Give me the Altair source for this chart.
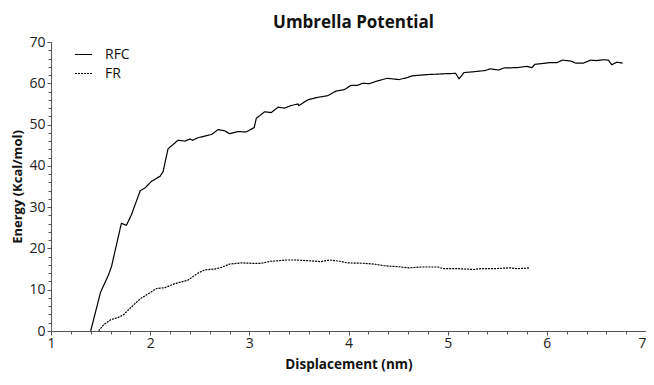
import altair as alt
import pandas as pd

rfc_x = [1.40, 1.50, 1.58, 1.61, 1.71, 1.76, 1.81, 1.90, 1.95, 2.015, 2.10, 2.13, 2.18, 2.28, 2.35, 2.40, 2.43, 2.48,
         2.62, 2.685, 2.75, 2.80, 2.886, 2.97, 3.05, 3.07, 3.155, 3.22, 3.29, 3.355, 3.42, 3.49, 3.50, 3.59, 3.69,
         3.79, 3.875, 3.96, 4.025, 4.09, 4.14, 4.21, 4.28, 4.39, 4.51, 4.595, 4.64, 4.79, 4.96, 5.08, 5.115, 5.165,
         5.265, 5.38, 5.43, 5.515, 5.565, 5.70, 5.80, 5.85, 5.88, 5.96, 6.03, 6.10, 6.16, 6.24, 6.29, 6.37, 6.44,
         6.50, 6.57, 6.62, 6.655, 6.705, 6.765]
rfc_y = [0.0, 9.4, 13.6, 15.6, 26.1, 25.6, 28.1, 34.0, 34.7, 36.3, 37.5, 38.6, 44.1, 46.2, 46.0, 46.5, 46.2, 46.8,
         47.6, 48.8, 48.5, 47.8, 48.3, 48.2, 49.3, 51.5, 53.1, 52.9, 54.2, 54.0, 54.6, 55.0, 54.6, 56.0, 56.6,
         57.0, 58.1, 58.5, 59.5, 59.5, 60.0, 59.9, 60.5, 61.2, 60.9, 61.4, 61.8, 62.1, 62.3, 62.4, 61.1, 62.6,
         62.8, 63.1, 63.5, 63.2, 63.7, 63.8, 64.1, 63.8, 64.6, 64.8, 65.0, 65.0, 65.6, 65.4, 64.9, 64.9, 65.6,
         65.5, 65.7, 65.6, 64.5, 65.1, 64.9]

fr_x = [1.48, 1.53, 1.60, 1.68, 1.73, 1.81, 1.90, 1.98, 2.065, 2.15, 2.25, 2.38, 2.48, 2.55, 2.65, 2.72, 2.80,
        2.92, 3.02, 3.12, 3.22, 3.29, 3.37, 3.455, 3.62, 3.72, 3.81, 3.91, 3.99, 4.16, 4.26, 4.36, 4.49, 4.61,
        4.73, 4.90, 4.96, 5.10, 5.265, 5.33, 5.465, 5.63, 5.70, 5.785, 5.83]
fr_y = [0.0, 1.5, 2.7, 3.3, 3.9, 5.8, 7.8, 9.0, 10.3, 10.5, 11.5, 12.3, 14.0, 14.8, 15.0, 15.4, 16.2,
        16.5, 16.4, 16.4, 16.9, 17.0, 17.2, 17.2, 17.0, 16.8, 17.2, 16.9, 16.5, 16.4, 16.2, 15.8, 15.6, 15.3,
        15.5, 15.5, 15.1, 15.1, 14.9, 15.1, 15.1, 15.3, 15.1, 15.2, 15.3]

x_major = [1, 2, 3, 4, 5, 6, 7]
x_minor = [round(1 + 0.2 * i, 1) for i in range(31)]
y_major = [0, 10, 20, 30, 40, 50, 60, 70]
y_minor = list(range(0, 71, 2))

FONT = "Open Sans"

df = pd.concat([
    pd.DataFrame({"x": rfc_x, "y": rfc_y, "series": "RFC", "order": range(len(rfc_x))}),
    pd.DataFrame({"x": fr_x, "y": fr_y, "series": "FR", "order": range(len(fr_x))}),
])

xscale = alt.Scale(domain=[1, 7], nice=False, zero=False)
yscale = alt.Scale(domain=[0, 70], nice=False)

lines = alt.Chart(df).mark_line(strokeWidth=1.2, color="black").encode(
    x=alt.X("x:Q", scale=xscale,
            axis=alt.Axis(values=x_major, title="Displacement (nm)", grid=False, tickSize=4,
                          labelFontSize=14, titleFontSize=13.5, titleFontWeight="bold",
                          labelFont=FONT, titleFont=FONT, domainColor="#555", tickColor="#555",
                          labelColor="#222", titleColor="#111", labelPadding=1,
                          titleBaseline="alphabetic", titleY=37,
                          labelAlign={"condition": {"test": "datum.value >= 7", "value": "right"},
                                      "value": "center"})),
    y=alt.Y("y:Q", scale=yscale,
            axis=alt.Axis(values=y_major, title="Energy (Kcal/mol)", grid=False, tickSize=4,
                          labelFontSize=14, titleFontSize=13, titleFontWeight="bold",
                          labelFont=FONT, titleFont=FONT, domainColor="#555", tickColor="#555",
                          labelColor="#222", titleColor="#111", titlePadding=4, labelPadding=2)),
    strokeDash=alt.StrokeDash("series:N",
                              scale=alt.Scale(domain=["RFC", "FR"], range=[[1, 0], [2, 1]]),
                              legend=alt.Legend(title=None, orient="none", legendX=23, legendY=3,
                                                symbolType="stroke", symbolStrokeColor="black",
                                                symbolSize=289, symbolStrokeWidth=1.2,
                                                labelFontSize=14, labelFont=FONT, labelColor="#111",
                                                rowPadding=2, labelOffset=12)),
    order="order:Q",
    detail="series:N",
)

minor_x = alt.Chart(pd.DataFrame({"x": x_minor})).mark_point(opacity=0).encode(
    x=alt.X("x:Q", scale=xscale,
            axis=alt.Axis(values=x_minor, orient="bottom", labels=False, title=None, domain=False,
                          grid=False, tickSize=3, tickColor="#555")),
)
minor_y = alt.Chart(pd.DataFrame({"y": y_minor})).mark_point(opacity=0).encode(
    y=alt.Y("y:Q", scale=yscale,
            axis=alt.Axis(values=y_minor, orient="left", labels=False, title=None, domain=False,
                          grid=False, tickSize=3, tickColor="#555")),
)

chart = alt.layer(lines, minor_x, minor_y).resolve_axis(x="independent", y="independent").properties(
    width=595, height=289,
    title=alt.Title("Umbrella Potential", fontSize=17, font=FONT, fontWeight="bold", color="#111",
                    offset=3, dx=5),
    autosize=alt.AutoSizeParams(type="none"),
    padding={"left": 43, "top": 34, "right": 0, "bottom": 41},
).configure_view(stroke=None)

chart.save("out.html", embed_options={"renderer": "svg", "actions": False})
